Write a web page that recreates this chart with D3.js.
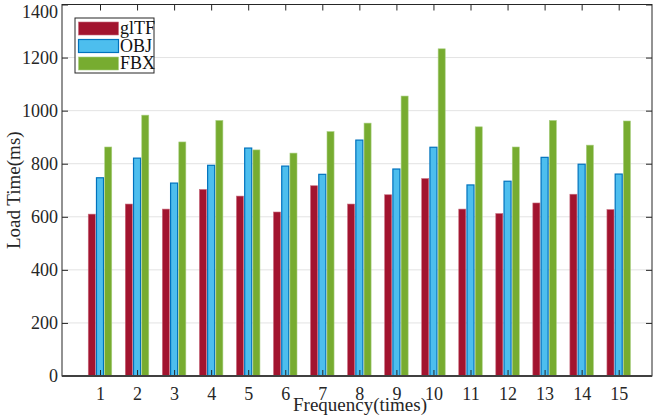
<!DOCTYPE html>
<html>
<head>
<meta charset="utf-8">
<script src="https://cdn.jsdelivr.net/npm/d3@7"></script>
<style>
  body { margin: 0; background: #fff; }
  svg { display: block; }
</style>
</head>
<body>
<div class="chart"></div>
<script>
// values
const groups = [1, 2, 3, 4, 5, 6, 7, 8, 9, 10, 11, 12, 13, 14, 15];
const gltf = [610, 648, 629, 703, 678, 618, 717, 648, 683, 744, 629, 612, 652, 685, 627];
const obj  = [747, 821, 727, 794, 859, 791, 760, 889, 780, 862, 720, 734, 824, 798, 761];
const fbx  = [863, 983, 882, 963, 852, 840, 921, 953, 1055, 1233, 939, 863, 963, 870, 961];
const seriesNames = ["glTF", "OBJ", "FBX"];
const yTicks = [0, 200, 400, 600, 800, 1000, 1200, 1400];

const fills = ["#A2142F", "#4DBEEE", "#77AC30"];
const strokes = ["#c76a7c", "#0072BD", "#a9cf80"];

const W = 653, H = 416;
const plotL = 62, plotR = 652, plotT = 4.5, plotB = 376;
const serif = "'Liberation Serif', 'Times New Roman', serif";

const svg = d3.select(".chart").append("svg")
  .attr("width", W).attr("height", H)
  .style("font-family", serif);

const x = d3.scaleLinear().domain([1, 15]).range([100, 618.7]);
const y = d3.scaleLinear().domain([0, 1400]).range([plotB, plotT]);

// grid
svg.append("g")
  .selectAll("line")
  .data(yTicks.slice(1, -1))
  .join("line")
  .attr("x1", plotL).attr("x2", plotR)
  .attr("y1", d => y(d)).attr("y2", d => y(d))
  .attr("stroke", "#e3e3e3")
  .attr("stroke-width", 1);

// bars
const data = [gltf, obj, fbx];
const offsets = [-0.222, 0, 0.222];
const bw = x(1.19) - x(1);
data.forEach((vals, s) => {
  svg.append("g")
    .selectAll("rect")
    .data(vals)
    .join("rect")
    .attr("x", (d, i) => x(groups[i] + offsets[s]) - bw / 2)
    .attr("y", d => y(d))
    .attr("width", bw)
    .attr("height", d => y(0) - y(d))
    .attr("fill", fills[s])
    .attr("stroke", strokes[s])
    .attr("stroke-width", s === 1 ? 1.2 : 0.6);
});

// axes: left + bottom with labels, top + right just ticks (inward)
const axisColor = "#262626";
const yAxis = svg.append("g")
  .attr("transform", `translate(${plotL},0)`)
  .call(d3.axisLeft(y).tickValues(yTicks).tickFormat(d3.format("d"))
    .tickSizeInner(-6).tickSizeOuter(0).tickPadding(4));
const xAxis = svg.append("g")
  .attr("transform", `translate(0,${plotB})`)
  .call(d3.axisBottom(x).tickValues(groups).tickFormat(d3.format("d"))
    .tickSizeInner(-6).tickSizeOuter(0).tickPadding(11));
const yAxisR = svg.append("g")
  .attr("transform", `translate(${plotR},0)`)
  .call(d3.axisRight(y).tickValues(yTicks).tickSizeInner(-6).tickSizeOuter(0).tickFormat(""));
const xAxisT = svg.append("g")
  .attr("transform", `translate(0,${plotT})`)
  .call(d3.axisTop(x).tickValues(groups).tickSizeInner(-6).tickSizeOuter(0).tickFormat(""));

[yAxis, xAxis, yAxisR, xAxisT].forEach(g => {
  g.attr("font-family", serif).attr("font-size", 18);
  g.select(".domain").remove();
  g.selectAll("line").attr("stroke", axisColor).attr("stroke-width", 1);
  g.selectAll("text").attr("fill", "#262626");
});
// top label sits a bit lower so it isn't clipped
yAxis.selectAll(".tick text").filter(d => d === 1400).attr("dy", "0.7em");

// frame
svg.append("rect")
  .attr("x", plotL).attr("y", plotT)
  .attr("width", plotR - plotL).attr("height", plotB - plotT)
  .attr("fill", "none")
  .attr("stroke", axisColor)
  .attr("stroke-width", 1);
svg.append("line")
  .attr("x1", plotL).attr("x2", plotR)
  .attr("y1", plotB).attr("y2", plotB)
  .attr("stroke", "#404040").attr("stroke-width", 2);

// axis titles
svg.append("text")
  .attr("transform", `translate(20,${(plotT + plotB) / 2}) rotate(-90)`)
  .attr("text-anchor", "middle")
  .attr("fill", "#262626")
  .style("font-size", "19px")
  .text("Load Time(ms)");
svg.append("text")
  .attr("x", (plotL + plotR) / 2 + 3)
  .attr("y", 411)
  .attr("text-anchor", "middle")
  .attr("fill", "#262626")
  .style("font-size", "19px")
  .text("Frequency(times)");

// legend
const lg = svg.append("g").attr("transform", "translate(75,18)");
lg.append("rect")
  .attr("width", 79).attr("height", 55)
  .attr("fill", "#fff")
  .attr("stroke", "#262626").attr("stroke-width", 1);
seriesNames.forEach((name, i) => {
  lg.append("rect")
    .attr("x", 3.5).attr("y", 4 + i * 17.5)
    .attr("width", 40).attr("height", 13)
    .attr("fill", fills[i])
    .attr("stroke", strokes[i]).attr("stroke-width", i === 1 ? 1.2 : 0.6);
  lg.append("text")
    .attr("x", 45).attr("y", 16 + i * 17.5)
    .attr("fill", "#111")
    .style("font-size", "18px")
    .text(name);
});
</script>
</body>
</html>
